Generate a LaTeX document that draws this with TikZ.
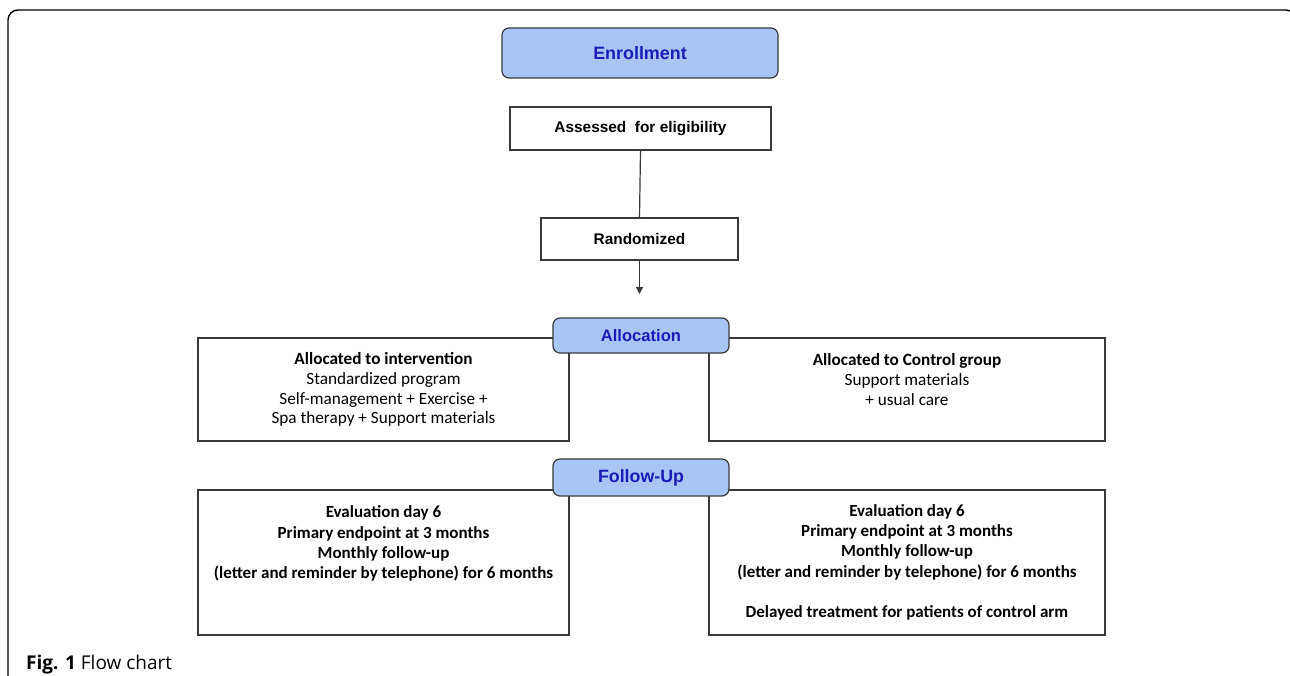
\documentclass[tikz,border=0pt]{standalone}
\usepackage{fontspec}
\setmainfont{Carlito}
\newfontfamily\headfont{Liberation Sans}
\newfontfamily\capfont{Open Sans}
\usetikzlibrary{arrows.meta}
\definecolor{hdrfill}{HTML}{A9C5F5}
\definecolor{hdrtext}{HTML}{1C1CB8}
\definecolor{linegray}{HTML}{3A3A3A}
\tikzset{
  box/.style={draw=linegray, line width=1.2pt, fill=white, align=center, inner sep=0pt},
  hdr/.style={draw=linegray, line width=1.2pt, fill=hdrfill, rounded corners=7pt, inner sep=0pt,
              text=hdrtext, font=\headfont\bfseries\fontsize{16.6}{19}\selectfont},
  topbox/.style={box, font=\headfont\bfseries\fontsize{15.4}{18}\selectfont},
  armbox/.style={box, font=\fontsize{17.2}{19.7}\selectfont},
  fupbox/.style={box, font=\bfseries\fontsize{17}{20.3}\selectfont},
  conn/.style={draw=linegray, line width=1.2pt},
}
\begin{document}
\begin{tikzpicture}[x=1pt,y=-1pt]
\useasboundingbox (0,0) rectangle (1290,676);
\fill[white] (0,0) rectangle (1290,676);
% outer frame
\draw[line width=1.4pt, rounded corners=10pt] (8,680) -- (8,10) -- (1296,10) -- (1296,680);

\node[hdr, minimum width=276pt, minimum height=50pt, font=\headfont\bfseries\fontsize{17.9}{20}\selectfont] (enroll) at (640,53) {Enrollment};
\node[topbox, minimum width=261pt, minimum height=43pt] (assess) at (640.5,128.5) {Assessed\ \ for eligibility};
\node[topbox, minimum width=197pt, minimum height=42pt] (rand) at (639.5,239) {Randomized};
\coordinate (arrend) at (639.5,294);

\draw[conn] (assess.south) -- (rand.north);
\draw[conn, -{Triangle[length=7pt,width=7pt]}] (rand.south) -- (arrend);

\node[armbox, minimum width=371pt, minimum height=103pt] (intv) at (383.5,389.5)
  {\textbf{Allocated to\ intervention}\\Standardized program\\Self-management + Exercise +\\Spa therapy + Support materials};
\node[armbox, minimum width=396pt, minimum height=103pt] (ctrl) at (907,389.5)
  {\textbf{Allocated to Control\ group}\\Support materials\\+ usual care\\\mbox{}};
\node[hdr, minimum width=176pt, minimum height=35pt] (alloc) at (641,335.5) {Allocation};

\node[fupbox, minimum width=371pt, minimum height=145pt] (fupl) at (383.5,562.5)
  {Evaluation day 6\\Primary endpoint at\ 3 months\\Monthly follow-up\\(letter and reminder by telephone) for 6 months\\\mbox{}\\\mbox{}};
\node[fupbox, minimum width=396pt, minimum height=145pt] (fupr) at (907,562.5)
  {Evaluation day 6\\Primary endpoint at\ 3 months\\Monthly follow-up\\(letter and reminder by telephone) for 6 months\\\mbox{}\\Delayed treatment for patients of control arm};
\node[hdr, minimum width=176pt, minimum height=37pt, font=\headfont\bfseries\fontsize{17.8}{20}\selectfont] (fup) at (641,477.5) {Follow-Up};

\node[anchor=base west, inner sep=0pt, font=\capfont\fontsize{19}{22}\selectfont] (cap) at (26,669) {\textbf{Fig. 1} Flow chart};
\end{tikzpicture}
\end{document}
